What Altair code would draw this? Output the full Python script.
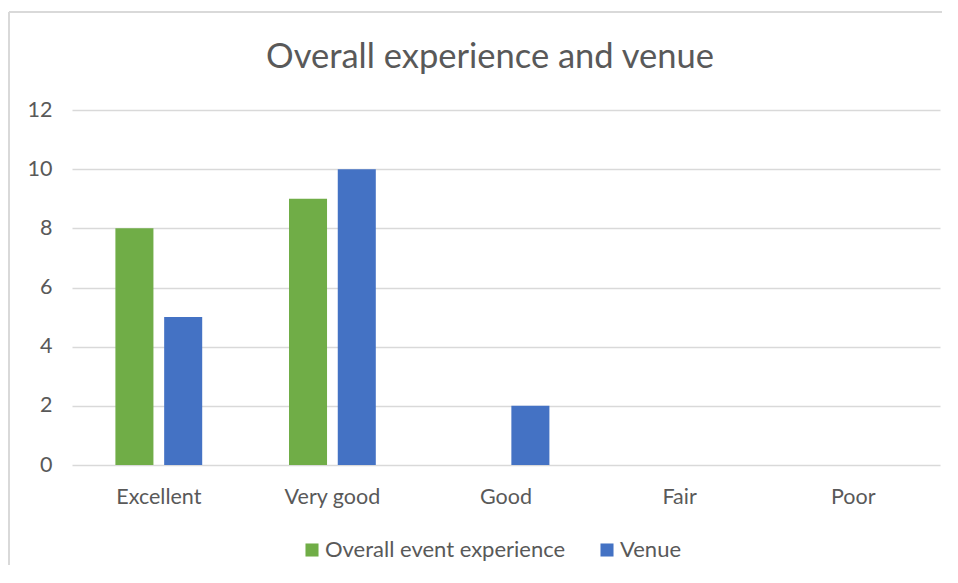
import altair as alt
import pandas as pd

categories = ["Excellent", "Very good", "Good", "Fair", "Poor"]
series_names = ["Overall event experience", "Venue"]
overall = [8, 9, 0, 0, 0]
venue = [5, 10, 2, 0, 0]
colors = ["#70AD47", "#4472C4"]
y_ticks = [0, 2, 4, 6, 8, 10, 12]

rows = []
for i, c in enumerate(categories):
    rows.append({"Category": c, "Series": series_names[0], "Value": overall[i]})
    rows.append({"Category": c, "Series": series_names[1], "Value": venue[i]})
df = pd.DataFrame(rows)

FONT = "Lato"
GRAY = "#595959"

bars = alt.Chart(df).mark_bar().encode(
    x=alt.X("Category:N", sort=categories,
            scale=alt.Scale(paddingInner=0.5, paddingOuter=0.25),
            axis=alt.Axis(title=None, labelAngle=0, domain=False, ticks=False,
                          labelPadding=21, labelFontSize=21.5, labelColor=GRAY,
                          labelFont=FONT, grid=False)),
    xOffset=alt.XOffset("Series:N", sort=series_names,
                        scale=alt.Scale(paddingInner=0.22)),
    y=alt.Y("Value:Q", scale=alt.Scale(domain=[0, 12]),
            axis=alt.Axis(title=None, values=y_ticks, domain=False, ticks=False,
                          labelPadding=20, labelFontSize=21.5, labelColor=GRAY,
                          labelFont=FONT, gridColor="#d9d9d9", gridWidth=1.6)),
    color=alt.Color("Series:N", sort=series_names,
                    scale=alt.Scale(domain=series_names, range=colors),
                    legend=alt.Legend(title=None, orient="none", direction="horizontal",
                                      legendX=229, legendY=429, symbolType="square",
                                      symbolSize=170, symbolStrokeWidth=0,
                                      labelFontSize=22, labelColor=GRAY, labelFont=FONT,
                                      labelLimit=500, labelOffset=2, columnPadding=30,
                                      padding=0)),
)

frame_df = pd.DataFrame({"a": [0]})
left_line = alt.Chart(frame_df).mark_rule(color="#d9d9d9", strokeWidth=2).encode(
    x=alt.value(-63), y=alt.value(-98), y2=alt.value(600),
)
top_line = alt.Chart(frame_df).mark_rule(color="#d9d9d9", strokeWidth=2).encode(
    x=alt.value(-63), x2=alt.value(2000), y=alt.value(-98),
)

chart = alt.layer(left_line, top_line, bars).properties(
    width=868, height=355,
    background="white",
    title=alt.Title("Overall experience and venue", fontSize=34.5, font=FONT,
                    fontWeight="normal", color=GRAY, anchor="middle", frame="group",
                    baseline="alphabetic", offset=-91, dx=-16),
    autosize=alt.AutoSizeParams(type="none"),
    padding={"left": 64, "top": 102, "right": 2, "bottom": 100},
).configure_view(stroke=None)

chart.save("out.html", embed_options={"renderer": "svg", "actions": False})
